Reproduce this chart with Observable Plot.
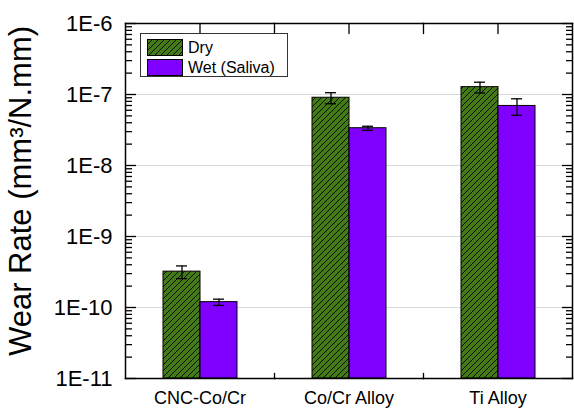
<!DOCTYPE html>
<html><head><meta charset="utf-8">
<script src="https://cdn.jsdelivr.net/npm/d3@7"></script>
<script src="https://cdn.jsdelivr.net/npm/@observablehq/plot@0.6"></script>
<style>
body{margin:0;background:#fff;font-family:"Liberation Sans",Arial,sans-serif;}
#wrap{position:relative;width:574px;height:409px;overflow:hidden;}
#legend{position:absolute;left:140px;top:33px;width:148px;height:44px;box-sizing:border-box;border:1px solid #333;background:#fff;padding:4px 0 0 6px;}
.row{display:flex;align-items:center;height:19px;margin-bottom:1px;font-size:16px;color:#000;}
.row svg{display:block;}
.row span{margin-left:5px;}
#ytitle{position:absolute;left:20px;top:191px;transform:translate(-50%,-50%) rotate(-90deg);white-space:nowrap;font-size:31px;color:#000;line-height:1;}
</style></head><body><div id="wrap"></div>
<script>
// ---- data ----
const categories = ["CNC-Co/Cr", "Co/Cr Alloy", "Ti Alloy"];
const series = ["Dry", "Wet (Saliva)"];
const dryValues = [3.2e-10, 9.0e-8, 1.27e-7];
const dryErrors = [0.65e-10, 1.6e-8, 2.2e-8];
const wetValues = [1.19e-10, 3.35e-8, 6.9e-8];
const wetErrors = [0.12e-10, 0.22e-8, 1.8e-8];
const yDomain = [1e-11, 1e-6];
const majorTicks = [1e-11, 1e-10, 1e-9, 1e-8, 1e-7, 1e-6];
const tickLabels = ["1E-11", "1E-10", "1E-9", "1E-8", "1E-7", "1E-6"];
const minorMultipliers = [2, 3, 4, 5, 6, 7, 8, 9];
const yTitle = "Wear Rate (mm³/N.mm)";

// ---- styles ----
const dryGreen = "#437c17";
const fills = ["url(#hatchDry)", "#8000ff"];

const rows = categories.flatMap((c, i) => [
  {category: c, series: series[0], value: dryValues[i], err: dryErrors[i]},
  {category: c, series: series[1], value: wetValues[i], err: wetErrors[i]}
]);
const minorTicks = majorTicks.slice(0, -1).flatMap(t => minorMultipliers.map(m => m * t));

const tickShape = {draw(context, l) { context.moveTo(0, 0); context.lineTo(0, -l); }};

const chart = Plot.plot({
  width: 574, height: 409,
  marginLeft: 125, marginRight: 2, marginTop: 23, marginBottom: 31,
  style: {fontFamily: "'Liberation Sans', Arial, sans-serif", color: "#000", background: "#fff"},
  fx: {domain: categories, padding: 0, label: null},
  x: {domain: series, paddingInner: 0, paddingOuter: 1, axis: null},
  y: {type: "log", domain: yDomain, axis: null},
  color: {domain: series, range: fills},
  marks: [
    Plot.ruleY(majorTicks.slice(1, -1), {stroke: "#d9d9d9", strokeWidth: 1}),
    Plot.barY(rows, {fx: "category", x: "series", y1: yDomain[0], y2: "value", fill: "series", stroke: "#000", strokeWidth: 1}),
    Plot.ruleX(rows, {fx: "category", x: "series", y1: d => d.value - d.err, y2: d => d.value + d.err, strokeWidth: 1.3}),
    Plot.tickY(rows, {fx: "category", x: "series", y: d => d.value - d.err, insetLeft: 13, insetRight: 13, strokeWidth: 1.3}),
    Plot.tickY(rows, {fx: "category", x: "series", y: d => d.value + d.err, insetLeft: 13, insetRight: 13, strokeWidth: 1.3}),
    // frame
    Plot.frame({anchor: "top", strokeWidth: 1.5}),
    Plot.frame({anchor: "bottom", strokeWidth: 1.5}),
    Plot.frame({anchor: "left", facetAnchor: "left", strokeWidth: 1.5}),
    Plot.frame({anchor: "right", facetAnchor: "right", strokeWidth: 1.5}),
    // y tick labels
    Plot.axisY(majorTicks, {anchor: "left", tickSize: 0, tickPadding: 13, fontSize: 22, label: null,
      tickFormat: d => tickLabels[majorTicks.indexOf(d)]}),
    // inward ticks left
    Plot.axisY(majorTicks, {anchor: "right", frameAnchor: "left", facetAnchor: "left", tickSize: 10, fill: "none", label: null, strokeWidth: 1.3}),
    Plot.axisY(minorTicks, {anchor: "right", frameAnchor: "left", facetAnchor: "left", tickSize: 6, fill: "none", label: null, strokeWidth: 1.3}),
    // inward ticks right
    Plot.axisY(majorTicks, {anchor: "left", frameAnchor: "right", facetAnchor: "right", tickSize: 10, fill: "none", label: null, strokeWidth: 1.3}),
    Plot.axisY(minorTicks, {anchor: "left", frameAnchor: "right", facetAnchor: "right", tickSize: 6, fill: "none", label: null, strokeWidth: 1.3}),
    // category ticks top/bottom
    Plot.vector(categories, {fx: d => d, frameAnchor: "top", rotate: 180, length: 10, anchor: "start", shape: tickShape, strokeWidth: 1.3}),
    Plot.vector(categories.slice(1), {fx: d => d, frameAnchor: "top-left", rotate: 180, length: 10, anchor: "start", shape: tickShape, strokeWidth: 1.3}),
    Plot.vector(categories.slice(1), {fx: d => d, frameAnchor: "bottom-left", rotate: 0, length: 5, anchor: "start", shape: tickShape, strokeWidth: 1.3}),
    // category labels
    Plot.axisFx({anchor: "bottom", tickSize: 0, tickPadding: 13, fontSize: 18, label: null})
  ]
});

const svg = d3.select(chart);
const defs = svg.insert("defs", ":first-child");
const pat = defs.append("pattern").attr("id", "hatchDry").attr("patternUnits", "userSpaceOnUse")
  .attr("width", 6).attr("height", 6);
pat.append("rect").attr("width", 6).attr("height", 6).attr("fill", dryGreen);
pat.append("path").attr("d", "M-1,1 l2,-2 M0,6 l6,-6 M5,7 l2,-2").attr("stroke", "#000").attr("stroke-width", 0.9);

const wrap = document.getElementById("wrap");
wrap.appendChild(chart);

d3.select(wrap).append("div").attr("id", "ytitle").text(yTitle);

const legend = d3.select(wrap).append("div").attr("id", "legend");
series.forEach((s, i) => {
  const row = legend.append("div").attr("class", "row");
  const sw = row.append("svg").attr("width", 36).attr("height", 17);
  sw.append("rect").attr("x", 0.5).attr("y", 0.5).attr("width", 35).attr("height", 16)
    .attr("fill", fills[i]).attr("stroke", "#000");
  row.append("span").text(s);
});
</script></body></html>
